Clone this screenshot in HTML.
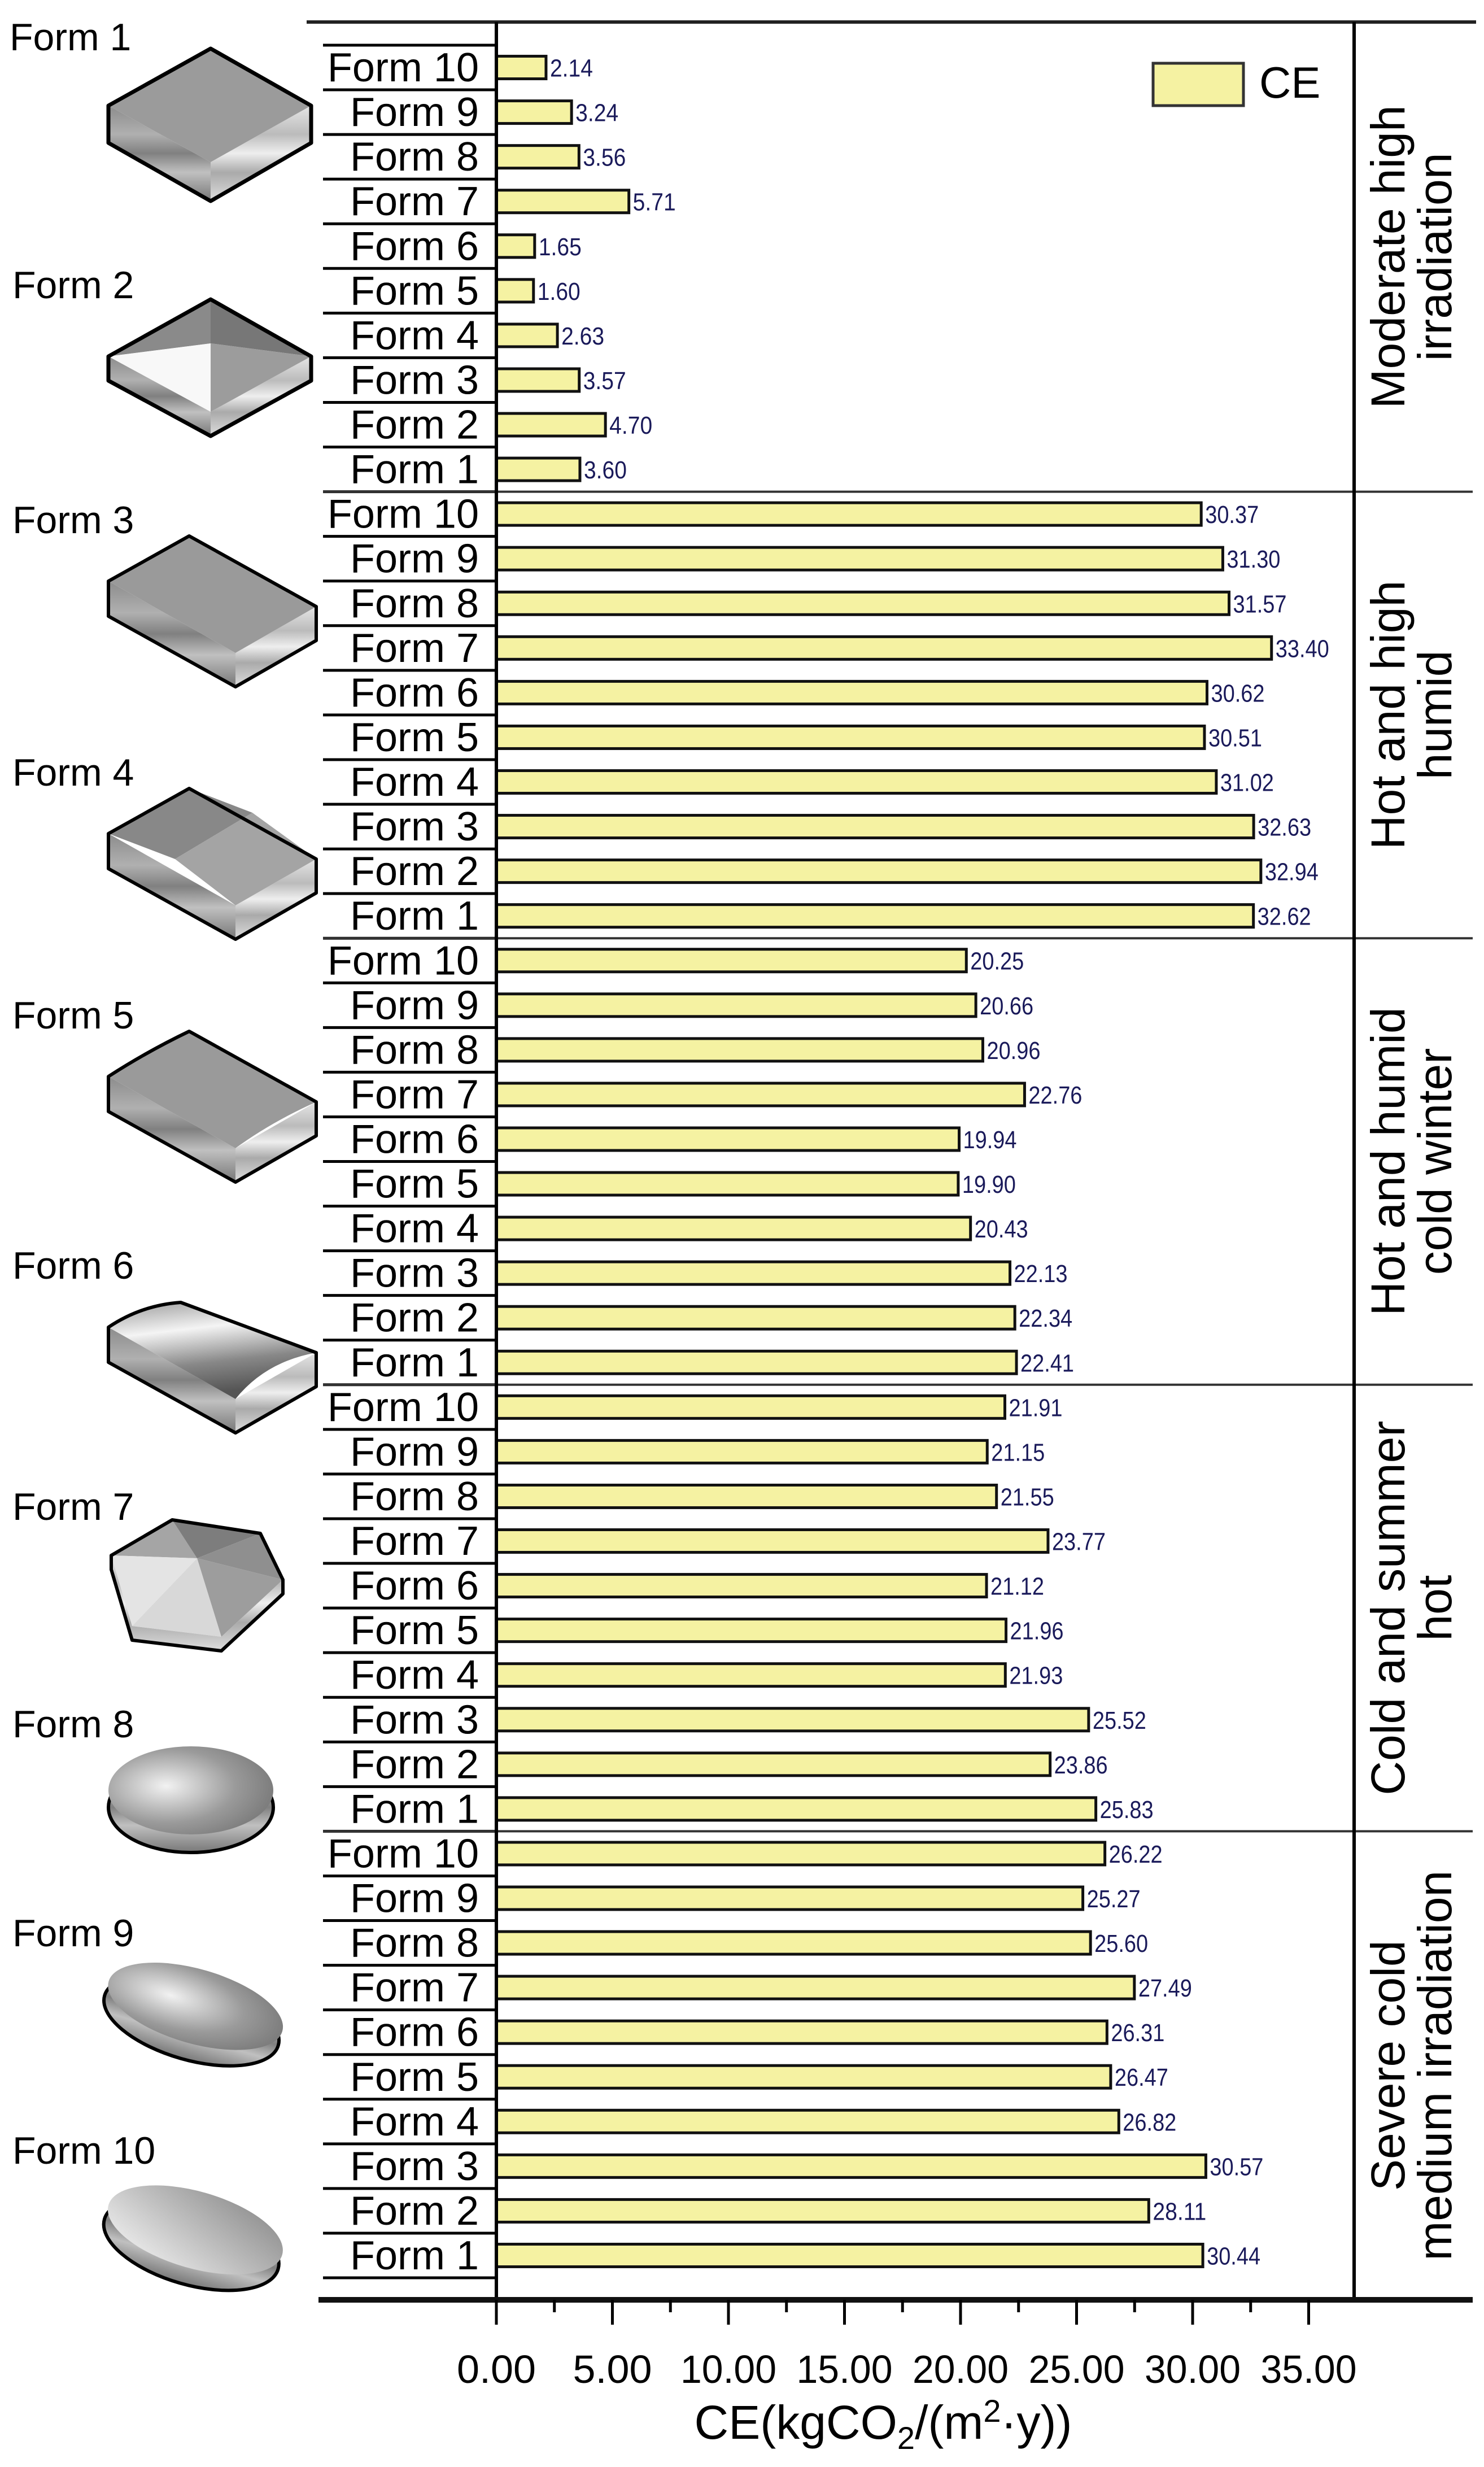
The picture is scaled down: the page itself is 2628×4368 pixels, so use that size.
<!DOCTYPE html>
<html><head><meta charset="utf-8"><style>
html,body{margin:0;padding:0;background:#fff}
svg{display:block}
text{font-family:"Liberation Sans",Arial,sans-serif}
</style></head><body>
<svg id="chart" xmlns="http://www.w3.org/2000/svg" width="2628" height="4368" viewBox="0 0 2628 4368">
<defs>
<linearGradient id="sideL" x1="0" y1="0" x2="0" y2="1"><stop offset="0" stop-color="#8c8c8c"/><stop offset="0.3" stop-color="#b0b0b0"/><stop offset="0.5" stop-color="#808080"/><stop offset="0.7" stop-color="#c0c0c0"/><stop offset="1" stop-color="#777"/></linearGradient>
<linearGradient id="sideR" x1="0" y1="0" x2="0" y2="1"><stop offset="0" stop-color="#e6e6e6"/><stop offset="0.3" stop-color="#bbb"/><stop offset="0.5" stop-color="#eee"/><stop offset="0.7" stop-color="#aaa"/><stop offset="1" stop-color="#ddd"/></linearGradient>
<linearGradient id="vault" x1="0" y1="0" x2="0.25" y2="1"><stop offset="0" stop-color="#999"/><stop offset="0.35" stop-color="#f4f4f4"/><stop offset="0.7" stop-color="#888"/><stop offset="1" stop-color="#555"/></linearGradient>
<radialGradient id="dome" cx="0.35" cy="0.45" r="0.7"><stop offset="0" stop-color="#f2f2f2"/><stop offset="0.6" stop-color="#9a9a9a"/><stop offset="1" stop-color="#777"/></radialGradient>
<linearGradient id="facet" x1="0" y1="1" x2="1" y2="0"><stop offset="0" stop-color="#f4f4f4"/><stop offset="0.5" stop-color="#bdbdbd"/><stop offset="1" stop-color="#888"/></linearGradient>
</defs>

<g id="icons" stroke-linejoin="round">
  <g>
    <polygon points="192,187 373,287 373,356 192,253" fill="url(#sideL)"/>
    <polygon points="373,287 551,187 551,253 373,356" fill="url(#sideR)"/>
    <polygon points="373,86 551,187 373,287 192,187" fill="#9b9b9b"/>
    <polygon points="373,86 551,187 551,253 373,356 192,253 192,187" fill="none" stroke="#000" stroke-width="7"/>
  </g>
  <g>
    <polygon points="192,631 373,729 373,772 192,674" fill="url(#sideL)"/>
    <polygon points="373,729 551,631 551,674 373,772" fill="url(#sideR)"/>
    <polygon points="373,530 192,631 373,608" fill="#8a8a8a"/>
    <polygon points="373,530 551,631 373,608" fill="#777"/>
    <polygon points="192,631 373,729 373,608" fill="#f8f8f8"/>
    <polygon points="551,631 373,729 373,608" fill="#9c9c9c"/>
    <polygon points="373,530 551,631 551,674 373,772 192,674 192,631" fill="none" stroke="#000" stroke-width="7"/>
  </g>
  <g>
    <polygon points="192,1029 417,1156 417,1216 192,1091" fill="url(#sideL)"/>
    <polygon points="417,1156 560,1074 560,1134 417,1216" fill="url(#sideR)"/>
    <polygon points="192,1029 335,949 560,1074 417,1156" fill="#9a9a9a"/>
    <polygon points="192,1029 335,949 560,1074 560,1134 417,1216 192,1091" fill="none" stroke="#000" stroke-width="6"/>
  </g>
  <g transform="translate(0,447)">
    <polygon points="192,1029 417,1156 417,1216 192,1091" fill="url(#sideL)"/>
    <polygon points="417,1156 560,1074 560,1134 417,1216" fill="url(#sideR)"/>
    <polygon points="192,1029 335,949 447,992 310,1074" fill="#888"/>
    <polygon points="310,1074 447,992 560,1074 417,1156" fill="#a4a4a4"/>
    <polygon points="192,1029 335,949 560,1074 560,1134 417,1216 192,1091" fill="none" stroke="#000" stroke-width="6"/>
  </g>
  <g transform="translate(0,877)">
    <polygon points="192,1029 417,1156 417,1216 192,1091" fill="url(#sideL)"/>
    <polygon points="417,1156 560,1074 560,1134 417,1216" fill="url(#sideR)"/>
    <path d="M192,1029 Q260,985 335,949 L560,1074 Q480,1110 417,1156 Z" fill="#9a9a9a"/>
    <path d="M192,1029 Q260,985 335,949 L560,1074 L560,1134 L417,1216 L192,1091 Z" fill="none" stroke="#000" stroke-width="6"/>
  </g>
  <g transform="translate(0,1321)">
    <polygon points="192,1029 417,1156 417,1216 192,1091" fill="url(#sideL)"/>
    <polygon points="417,1156 560,1074 560,1134 417,1216" fill="url(#sideR)"/>
    <path d="M192,1029 Q250,990 320,985 L560,1074 Q470,1090 417,1156 Z" fill="url(#vault)"/>
    <path d="M192,1029 Q250,990 320,985 L560,1074 L560,1134 L417,1216 L192,1091 Z" fill="none" stroke="#000" stroke-width="6"/>
  </g>
  <g>
    <polygon points="197,2754 234,2879 392,2898 501,2797 501,2822 392,2923 234,2904 197,2779" fill="url(#sideR)"/>
    <polygon points="197,2754 305,2691 349,2759" fill="#a5a5a5"/>
    <polygon points="305,2691 461,2715 349,2759" fill="#7d7d7d"/>
    <polygon points="461,2715 501,2797 349,2759" fill="#8f8f8f"/>
    <polygon points="501,2797 392,2898 349,2759" fill="#9d9d9d"/>
    <polygon points="392,2898 234,2879 349,2759" fill="#d8d8d8"/>
    <polygon points="234,2879 197,2754 349,2759" fill="#e4e4e4"/>
    <polygon points="197,2754 305,2691 461,2715 501,2797 501,2822 392,2923 234,2904 197,2779" fill="none" stroke="#000" stroke-width="6"/>
  </g>
  <g>
    <ellipse cx="338" cy="3200" rx="146" ry="80" fill="url(#sideL)" stroke="#000" stroke-width="6"/>
    <ellipse cx="338" cy="3170" rx="146" ry="78" fill="url(#dome)"/>
  </g>
  <g transform="rotate(16 344 3560)">
    <ellipse cx="344" cy="3578" rx="160" ry="70" fill="url(#sideL)" stroke="#000" stroke-width="6"/>
    <ellipse cx="344" cy="3552" rx="160" ry="66" fill="url(#dome)"/>
  </g>
  <g transform="rotate(16 344 3955)">
    <ellipse cx="344" cy="3974" rx="160" ry="72" fill="url(#sideL)" stroke="#000" stroke-width="6"/>
    <ellipse cx="344" cy="3948" rx="160" ry="68" fill="url(#facet)"/>
  </g>
</g>

<g id="icon-labels" font-size="68" fill="#000">
  <text x="17" y="89">Form 1</text>
  <text x="22" y="528">Form 2</text>
  <text x="22" y="944">Form 3</text>
  <text x="22" y="1391">Form 4</text>
  <text x="22" y="1821">Form 5</text>
  <text x="22" y="2264">Form 6</text>
  <text x="22" y="2691">Form 7</text>
  <text x="22" y="3076">Form 8</text>
  <text x="22" y="3446">Form 9</text>
  <text x="22" y="3831">Form 10</text>
</g>

<g id="plot"></g>

<g>
  <rect x="2042" y="112" width="160" height="75" fill="#f5f2a2" stroke="#333" stroke-width="5"/>
  <text x="2230" y="173" font-size="78" fill="#000">CE</text>
</g>
</svg>
<script>
const categories = ["Form 10","Form 9","Form 8","Form 7","Form 6","Form 5","Form 4","Form 3","Form 2","Form 1"];
const climateZones = [["Moderate high","irradiation"],["Hot and high","humid"],["Hot and humid","cold winter"],["Cold and summer","hot"],["Severe cold","medium irradiation"]];
const valuesModerateHigh = [2.14,3.24,3.56,5.71,1.65,1.60,2.63,3.57,4.70,3.60];
const valuesHotHighHumid = [30.37,31.30,31.57,33.40,30.62,30.51,31.02,32.63,32.94,32.62];
const valuesHotHumidColdWinter = [20.25,20.66,20.96,22.76,19.94,19.90,20.43,22.13,22.34,22.41];
const valuesColdSummerHot = [21.91,21.15,21.55,23.77,21.12,21.96,21.93,25.52,23.86,25.83];
const valuesSevereCold = [26.22,25.27,25.60,27.49,26.31,26.47,26.82,30.57,28.11,30.44];
const xTicks = [0,5,10,15,20,25,30,35];
const xTickLabels = ["0.00","5.00","10.00","15.00","20.00","25.00","30.00","35.00"];

const seriesBySection = [valuesModerateHigh,valuesHotHighHumid,valuesHotHumidColdWinter,valuesColdSummerHot,valuesSevereCold];
const NS = "http://www.w3.org/2000/svg";
const plot = document.getElementById('plot');
const X0 = 879, PX = 41.1, PLOT_RIGHT = 2398, TOP = 39, ROW0 = 80, ROWH = 79.06, AXIS_Y = 4072;
function xScale(v){ return X0 + v * PX; }
function rowY(s, i){ return ROW0 + (s * categories.length + i) * ROWH; }
function mk(tag, attrs, parent){
  const e = document.createElementNS(NS, tag);
  for (const k in attrs) e.setAttribute(k, attrs[k]);
  (parent || plot).appendChild(e);
  return e;
}
function fmt(v){ return v.toFixed(2); }

seriesBySection.forEach((vals, s) => {
  categories.forEach((cat, i) => {
    const yTop = rowY(s, i);
    const cy = yTop + ROWH / 2;
    const sep = mk('line', {x1:572, x2:X0, y1:yTop, y2:yTop, stroke:'#000', 'stroke-width':5});
    
    
    const lbl = mk('text', {x:848, y:yTop + ROWH - 15, 'font-size':72, 'text-anchor':'end', fill:'#000'});
    lbl.textContent = cat;
    
    
    const v = vals[i];
    const bar = mk('rect', {x:X0, y:cy - 20, width:xScale(v) - X0, height:40, fill:'#f5f2a2', stroke:'#111', 'stroke-width':5});
    
    
    const txt = fmt(v);
    const vl = mk('text', {x:xScale(v) + 7, y:cy + 16, 'font-size':44, fill:'#1a1a5a', textLength: txt.length * 19, lengthAdjust:'spacingAndGlyphs'});
    vl.textContent = txt;
    
    
  });
  if (s > 0) {
    const y = rowY(s, 0);
    const sl = mk('line', {x1:572, x2:2608, y1:y, y2:y, stroke:'#333', 'stroke-width':4});
    
    
  }
  const secTop = s === 0 ? TOP : rowY(s, 0);
  const secBot = s === seriesBySection.length - 1 ? AXIS_Y : rowY(s + 1, 0);
  const cyS = (secTop + secBot) / 2;
  const lines = climateZones[s];
  lines.forEach((ln, j) => {
    const bx = j === 0 ? 2487 : 2570;
    const t = mk('text', {x:bx, y:cyS, 'font-size':84, 'text-anchor':'middle', fill:'#000', transform:`rotate(-90 ${bx} ${cyS})`});
    t.textContent = ln;
    
    
  });
});
const lastSep = mk('line', {x1:572, x2:X0, y1:rowY(seriesBySection.length, 0), y2:rowY(seriesBySection.length, 0), stroke:'#000', 'stroke-width':5});



const topLine = mk('line', {x1:543, x2:2614, y1:TOP, y2:TOP, stroke:'#222', 'stroke-width':6});


const yAxis = mk('line', {x1:X0, x2:X0, y1:TOP, y2:AXIS_Y, stroke:'#000', 'stroke-width':6});


const rBorder = mk('line', {x1:PLOT_RIGHT, x2:PLOT_RIGHT, y1:TOP, y2:AXIS_Y, stroke:'#000', 'stroke-width':6});


const xAxis = mk('line', {x1:564, x2:2608, y1:AXIS_Y, y2:AXIS_Y, stroke:'#111', 'stroke-width':10});



xTicks.forEach((t, i) => {
  const x = xScale(t);
  const tk = mk('line', {x1:x, x2:x, y1:AXIS_Y, y2:AXIS_Y + 44, stroke:'#000', 'stroke-width':5});
  
  
  if (i < xTicks.length - 1) {
    const xm = xScale(t + 2.5);
    const mt = mk('line', {x1:xm, x2:xm, y1:AXIS_Y, y2:AXIS_Y + 22, stroke:'#000', 'stroke-width':5});
    
    
  }
  const tl = mk('text', {x:x, y:4219, 'font-size':70, 'text-anchor':'middle', fill:'#000', textLength:170, lengthAdjust:'spacingAndGlyphs'});
  tl.textContent = xTickLabels[i];
  if (xTickLabels[i].length < 5) tl.setAttribute('textLength', 140);
  
  
});

const title = mk('text', {x:1564, y:4318, 'font-size':84, 'text-anchor':'middle', fill:'#000'});


title.innerHTML = 'CE(kgCO<tspan font-size="56" dy="18">2</tspan><tspan dy="-18">/(m</tspan><tspan font-size="56" dy="-30">2</tspan><tspan dy="30">·y))</tspan>';
</script>
</body></html>
